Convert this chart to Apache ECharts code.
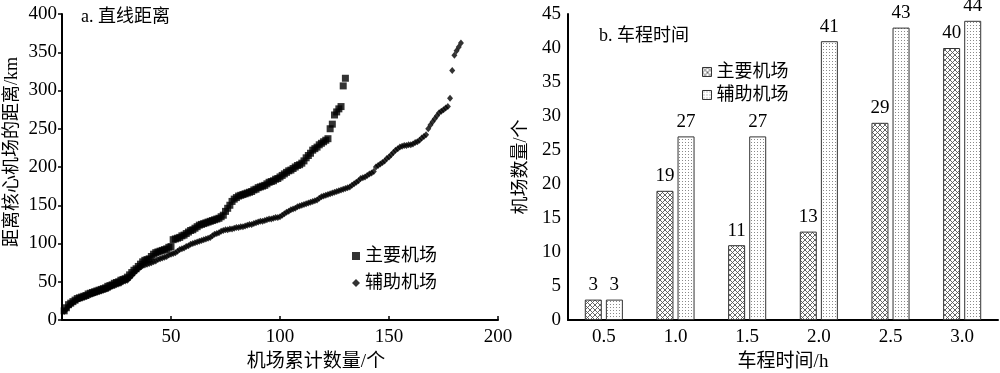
<!DOCTYPE html>
<html>
<head>
<meta charset="utf-8">
<script src="https://cdn.jsdelivr.net/npm/echarts@6/dist/echarts.min.js"></script>
<style>html,body{margin:0;padding:0;background:#fff;overflow:hidden}#c{width:1000px;height:373px}</style>
</head>
<body>
<div id="c"></div>
<script>
// ---- data ----
const mainDist = [
 12,16,20,22,24,26,28,29,30,31,
 32,34,35,36,37,38,39,40,41,42,
 44,45,46,48,49,50,52,53,54,56,
 59,62,65,67,70,73,76,78,79,80,
 83,86,88,89,90,91,92,93,95,96,
 105,106,107,108,110,111,113,115,117,118,
 120,122,124,125,126,127,128,129,130,131,
 132,133,135,137,142,146,150,155,158,160,
 162,163,164,165,166,167,168,170,171,173,
 174,175,176,178,180,181,182,184,185,187,
 189,191,193,195,196,198,200,202,203,205,
 208,212,215,218,222,224,226,229,231,233,
 235,237,250,256,268,272,276,279,306,316
];
const auxDist = [
 11,14,18,20,23,25,26,28,29,30,
 31,32,33,34,35,36,37,38,39,40,
 41,42,44,45,46,47,48,50,51,52,
 55,58,61,64,67,69,71,72,73,74,
 75,76,77,79,80,81,82,83,85,86,
 87,88,90,92,93,94,96,97,99,100,
 101,102,103,104,105,106,107,108,110,112,
 113,114,116,117,118,118,119,119,120,121,
 121,122,122,123,124,125,125,126,127,128,
 129,129,130,131,132,132,133,134,134,135,
 137,139,141,142,144,145,146,148,149,150,
 151,152,153,154,155,156,157,159,161,162,
 163,164,165,166,167,168,169,170,171,172,
 173,174,176,178,180,182,185,186,187,189,
 191,192,194,200,202,204,206,208,211,213,
 216,219,222,224,226,227,228,228,229,229,
 230,232,233,235,238,240,242,250,255,259,
 263,267,271,273,275,277,279,290,326,346,
 352,357,362
];
const timeCats = ['0.5','1.0','1.5','2.0','2.5','3.0'];
const mainCounts = [3,19,11,13,29,40];
const auxCounts = [3,27,27,41,43,44];
const seriesNames = ['主要机场','辅助机场'];
const titleA = 'a. 直线距离';
const titleB = 'b. 车程时间';

// ---- patterns ----
function crossPattern(){
  const c=document.createElement('canvas'); c.width=5; c.height=5;
  const g=c.getContext('2d'); g.fillStyle='#fff'; g.fillRect(0,0,5,5);
  g.strokeStyle='#555'; g.lineWidth=0.9;
  g.beginPath(); g.moveTo(0,0); g.lineTo(5,5); g.moveTo(5,0); g.lineTo(0,5); g.stroke();
  return c;
}
function dotPattern(){
  const c=document.createElement('canvas'); c.width=3; c.height=3;
  const g=c.getContext('2d'); g.fillStyle='#fff'; g.fillRect(0,0,3,3);
  g.fillStyle='#8a8a8a'; g.fillRect(1,1,1,1);
  return c;
}
const crossFill={image:crossPattern(),repeat:'repeat'};
const dotFill={image:dotPattern(),repeat:'repeat'};

const FONT="'Liberation Serif','Noto Sans CJK SC',serif";
const txt={fontFamily:FONT,fontSize:19,color:'#000'};

const chart=echarts.init(document.getElementById('c'),null,{renderer:'canvas'});
const axisLine={show:true,lineStyle:{color:'#000',width:2}};
chart.setOption({
  animation:false,
  backgroundColor:'#fff',
  textStyle:{fontFamily:FONT},
  title:[
    {text:titleA,left:76,top:3,textStyle:Object.assign({},txt,{fontSize:18,fontWeight:'normal'})},
    {text:titleB,left:594,top:22,textStyle:Object.assign({},txt,{fontSize:18,fontWeight:'normal'})}
  ],
  legend:[
    {orient:'vertical',left:347,top:242,itemGap:9,itemWidth:8,itemHeight:8,
     data:[{name:'a-'+seriesNames[0],icon:'rect'},{name:'a-'+seriesNames[1],icon:'diamond'}],
     formatter:n=>n.slice(2),textStyle:Object.assign({},txt,{fontSize:18}),selectedMode:false},
    {orient:'vertical',left:697,top:58,itemGap:5,itemWidth:9,itemHeight:9,itemStyle:{borderColor:'#333',borderWidth:1},
     data:[{name:'b-'+seriesNames[0],icon:'rect'},{name:'b-'+seriesNames[1],icon:'rect'}],
     formatter:n=>n.slice(2),textStyle:Object.assign({},txt,{fontSize:18}),selectedMode:false}
  ],
  grid:[
    {left:62,width:436,top:14,height:306,containLabel:false,outerBoundsMode:'none'},
    {left:568,width:430,top:14,height:306,containLabel:false,outerBoundsMode:'none'}
  ],
  xAxis:[
    {gridIndex:0,type:'value',min:0,max:200,interval:50,
     axisLine:axisLine,axisTick:{inside:true,length:4,lineStyle:{color:'#000',width:1.5}},
     splitLine:{show:false},
     axisLabel:Object.assign({},txt,{margin:8,formatter:v=>v===0?'':v}),
     name:'机场累计数量/个',nameLocation:'middle',nameGap:33,
     nameTextStyle:Object.assign({},txt,{padding:[0,0,0,72]})},
    {gridIndex:1,type:'category',data:timeCats,
     axisLine:axisLine,axisTick:{inside:true,length:4,alignWithLabel:false,lineStyle:{color:'#000',width:1.5}},
     axisLabel:Object.assign({},txt,{margin:8}),
     name:'车程时间/h',nameLocation:'middle',nameGap:33,nameTextStyle:txt}
  ],
  yAxis:[
    {gridIndex:0,type:'value',min:0,max:400,interval:50,
     axisLine:axisLine,axisTick:{length:4,lineStyle:{color:'#000',width:1.5}},
     splitLine:{show:false},axisLabel:Object.assign({},txt,{margin:5}),
     name:'距离核心机场的距离/km',nameLocation:'middle',nameGap:41,
     nameTextStyle:Object.assign({},txt,{fontSize:18,padding:[0,0,0,30]})},
    {gridIndex:1,type:'value',min:0,max:45,interval:5,
     axisLine:axisLine,axisTick:{length:4,lineStyle:{color:'#000',width:1.5}},
     splitLine:{show:false},axisLabel:Object.assign({},txt,{margin:7}),
     name:'机场数量/个',nameLocation:'middle',nameGap:38,nameTextStyle:Object.assign({},txt,{fontSize:18})}
  ],
  series:[
    {name:'a-'+seriesNames[0],type:'scatter',xAxisIndex:0,yAxisIndex:0,
     symbol:'rect',symbolSize:7,itemStyle:{color:'#000'},
     data:mainDist.map((d,i)=>[i+1,d])},
    {name:'a-'+seriesNames[1],type:'scatter',xAxisIndex:0,yAxisIndex:0,
     symbol:'diamond',symbolSize:[6,7],itemStyle:{color:'#000'},
     data:auxDist.map((d,i)=>[i+1,d])},
    {name:'b-'+seriesNames[0],type:'bar',xAxisIndex:1,yAxisIndex:1,
     barWidth:17,barGap:'24%',
     itemStyle:{color:crossFill,borderColor:'#333',borderWidth:1},
     label:{show:true,position:'top',distance:5,fontFamily:FONT,fontSize:19,color:'#000'},
     data:mainCounts},
    {name:'b-'+seriesNames[1],type:'bar',xAxisIndex:1,yAxisIndex:1,
     barWidth:17,barGap:'24%',
     itemStyle:{color:dotFill,borderColor:'#333',borderWidth:1},
     label:{show:true,position:'top',distance:5,fontFamily:FONT,fontSize:19,color:'#000'},
     data:auxCounts}
  ]
});
</script>
</body>
</html>
